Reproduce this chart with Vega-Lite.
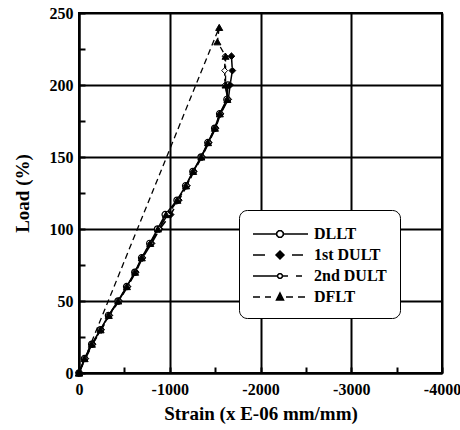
{
  "$schema": "https://vega.github.io/schema/vega-lite/v6.json",
  "width": 363,
  "height": 360,
  "autosize": "none",
  "padding": {"left": 79, "top": 13, "right": 18, "bottom": 57},
  "background": "white",
  "config": {
    "view": {"stroke": "black", "strokeWidth": 2},
    "axis": {
      "labelFont": "Liberation Serif", "labelFontWeight": "bold", "labelFontSize": 16, "labelColor": "#000000",
      "titleFont": "Liberation Serif", "titleFontWeight": "bold", "titleFontSize": 19, "titleColor": "#000000",
      "domainColor": "black", "domainWidth": 2, "tickColor": "black", "tickWidth": 2, "tickSize": -6,
      "grid": true, "gridColor": "black", "gridWidth": 2
    }
  },
  "data": {"values": [
    {"s":"DLLT","i":0,"load":0,"strain":0},{"s":"DLLT","i":1,"load":10,"strain":-60},{"s":"DLLT","i":2,"load":20,"strain":-140},{"s":"DLLT","i":3,"load":30,"strain":-235},{"s":"DLLT","i":4,"load":40,"strain":-325},{"s":"DLLT","i":5,"load":50,"strain":-430},{"s":"DLLT","i":6,"load":60,"strain":-525},{"s":"DLLT","i":7,"load":70,"strain":-615},{"s":"DLLT","i":8,"load":80,"strain":-690},{"s":"DLLT","i":9,"load":90,"strain":-780},{"s":"DLLT","i":10,"load":100,"strain":-865},{"s":"DLLT","i":11,"load":110,"strain":-950},{"s":"DLLT","i":12,"load":120,"strain":-1080},{"s":"DLLT","i":13,"load":130,"strain":-1175},{"s":"DLLT","i":14,"load":140,"strain":-1255},{"s":"DLLT","i":15,"load":150,"strain":-1345},{"s":"DLLT","i":16,"load":160,"strain":-1420},{"s":"DLLT","i":17,"load":170,"strain":-1495},{"s":"DLLT","i":18,"load":180,"strain":-1550},{"s":"DLLT","i":19,"load":190,"strain":-1630},{"s":"DLLT","i":20,"load":200,"strain":-1640},
    {"s":"1st DULT","i":0,"load":0,"strain":0},{"s":"1st DULT","i":1,"load":10,"strain":-70},{"s":"1st DULT","i":2,"load":20,"strain":-150},{"s":"1st DULT","i":3,"load":30,"strain":-245},{"s":"1st DULT","i":4,"load":40,"strain":-335},{"s":"1st DULT","i":5,"load":50,"strain":-440},{"s":"1st DULT","i":6,"load":60,"strain":-535},{"s":"1st DULT","i":7,"load":70,"strain":-625},{"s":"1st DULT","i":8,"load":80,"strain":-700},{"s":"1st DULT","i":9,"load":90,"strain":-800},{"s":"1st DULT","i":10,"load":100,"strain":-890},{"s":"1st DULT","i":11,"load":110,"strain":-1010},{"s":"1st DULT","i":12,"load":120,"strain":-1100},{"s":"1st DULT","i":13,"load":130,"strain":-1190},{"s":"1st DULT","i":14,"load":140,"strain":-1265},{"s":"1st DULT","i":15,"load":150,"strain":-1355},{"s":"1st DULT","i":16,"load":160,"strain":-1430},{"s":"1st DULT","i":17,"load":170,"strain":-1505},{"s":"1st DULT","i":18,"load":180,"strain":-1560},{"s":"1st DULT","i":19,"load":190,"strain":-1645},{"s":"1st DULT","i":20,"load":200,"strain":-1665},{"s":"1st DULT","i":21,"load":210,"strain":-1690},{"s":"1st DULT","i":22,"load":220,"strain":-1680},
    {"s":"2nd DULT","i":0,"load":0,"strain":0},{"s":"2nd DULT","i":1,"load":10,"strain":-65},{"s":"2nd DULT","i":2,"load":20,"strain":-145},{"s":"2nd DULT","i":3,"load":30,"strain":-240},{"s":"2nd DULT","i":4,"load":40,"strain":-330},{"s":"2nd DULT","i":5,"load":50,"strain":-435},{"s":"2nd DULT","i":6,"load":60,"strain":-530},{"s":"2nd DULT","i":7,"load":70,"strain":-620},{"s":"2nd DULT","i":8,"load":80,"strain":-695},{"s":"2nd DULT","i":9,"load":90,"strain":-790},{"s":"2nd DULT","i":10,"load":100,"strain":-880},{"s":"2nd DULT","i":11,"load":110,"strain":-975},{"s":"2nd DULT","i":12,"load":120,"strain":-1090},{"s":"2nd DULT","i":13,"load":130,"strain":-1185},{"s":"2nd DULT","i":14,"load":140,"strain":-1260},{"s":"2nd DULT","i":15,"load":150,"strain":-1350},{"s":"2nd DULT","i":16,"load":160,"strain":-1425},{"s":"2nd DULT","i":17,"load":170,"strain":-1500},{"s":"2nd DULT","i":18,"load":180,"strain":-1555},{"s":"2nd DULT","i":19,"load":190,"strain":-1640},{"s":"2nd DULT","i":20,"load":200,"strain":-1610},{"s":"2nd DULT","i":21,"load":210,"strain":-1605},{"s":"2nd DULT","i":22,"load":220,"strain":-1610},
    {"s":"DFLT","i":0,"load":0,"strain":0},{"s":"DFLT","i":1,"load":10,"strain":-62},{"s":"DFLT","i":2,"load":20,"strain":-142},{"s":"DFLT","i":3,"load":30,"strain":-238},{"s":"DFLT","i":4,"load":40,"strain":-328},{"s":"DFLT","i":5,"load":50,"strain":-432},{"s":"DFLT","i":6,"load":60,"strain":-528},{"s":"DFLT","i":7,"load":70,"strain":-618},{"s":"DFLT","i":8,"load":80,"strain":-692},{"s":"DFLT","i":9,"load":90,"strain":-785},{"s":"DFLT","i":10,"load":100,"strain":-870},{"s":"DFLT","i":11,"load":110,"strain":-960},{"s":"DFLT","i":12,"load":120,"strain":-1085},{"s":"DFLT","i":13,"load":130,"strain":-1180},{"s":"DFLT","i":14,"load":140,"strain":-1258},{"s":"DFLT","i":15,"load":150,"strain":-1348},{"s":"DFLT","i":16,"load":160,"strain":-1422},{"s":"DFLT","i":17,"load":170,"strain":-1498},{"s":"DFLT","i":18,"load":180,"strain":-1552},{"s":"DFLT","i":19,"load":190,"strain":-1635},{"s":"DFLT","i":20,"load":200,"strain":-1615},{"s":"DFLT","i":21,"load":220,"strain":-1615},{"s":"DFLT","i":22,"load":230,"strain":-1525},{"s":"DFLT","i":23,"load":240,"strain":-1545},{"s":"DFLT","i":24,"load":0,"strain":0}
  ]},
  "encoding": {
    "x": {"field": "strain", "type": "quantitative",
      "scale": {"domain": [-4000, 0], "reverse": true, "nice": false, "zero": false},
      "axis": {"values": [0,-500,-1000,-1500,-2000,-2500,-3000,-3500,-4000],
        "labelExpr": "datum.value % 1000 === 0 ? (datum.value === 0 ? '0' : '-' + format(-datum.value, 'd')) : ''",
        "gridOpacity": {"condition": {"test": "datum.value % 1000 === 0", "value": 1}, "value": 0},
        "labelPadding": 14, "title": "Strain (x E-06 mm/mm)", "titlePadding": 7, "labelFlush": false}},
    "y": {"field": "load", "type": "quantitative",
      "scale": {"domain": [0, 250], "nice": false},
      "axis": {"values": [0,25,50,75,100,125,150,175,200,225,250],
        "labelExpr": "datum.value % 50 === 0 ? format(datum.value, 'd') : ''",
        "gridOpacity": {"condition": {"test": "datum.value % 50 === 0", "value": 1}, "value": 0},
        "labelPadding": 12, "title": "Load (%)", "titlePadding": 17, "labelFlush": false}}
  },
  "layer": [
    {
      "transform": [{"filter": "datum.s === 'DLLT'"}],
      "mark": {"type": "line", "color": "black", "strokeWidth": 1.5},
      "encoding": {"order": {"field": "i", "type": "quantitative"}}
    },
    {
      "transform": [{"filter": "datum.s === '1st DULT'"}],
      "mark": {"type": "line", "color": "black", "strokeWidth": 1.5, "strokeDash": [10, 5]},
      "encoding": {"order": {"field": "i", "type": "quantitative"}}
    },
    {
      "transform": [{"filter": "datum.s === '2nd DULT'"}],
      "mark": {"type": "line", "color": "black", "strokeWidth": 1.5, "strokeDash": [12, 3, 3, 3]},
      "encoding": {"order": {"field": "i", "type": "quantitative"}}
    },
    {
      "transform": [{"filter": "datum.s === 'DFLT'"}],
      "mark": {"type": "line", "color": "black", "strokeWidth": 1.3, "strokeDash": [6, 4]},
      "encoding": {"order": {"field": "i", "type": "quantitative"}}
    },
    {
      "transform": [{"filter": "datum.s === 'DLLT'"}],
      "mark": {"type": "point", "shape": "circle", "filled": true, "fill": "white", "stroke": "black", "strokeWidth": 1.2, "size": 40, "opacity": 1}
    },
    {
      "transform": [{"filter": "datum.s === '1st DULT'"}],
      "mark": {"type": "point", "shape": "diamond", "filled": true, "fill": "black", "stroke": "black", "strokeWidth": 1, "size": 45, "opacity": 1}
    },
    {
      "transform": [{"filter": "datum.s === '2nd DULT'"}],
      "mark": {"type": "point", "shape": "diamond", "filled": true, "fill": "white", "stroke": "black", "strokeWidth": 1, "size": 35, "opacity": 1}
    },
    {
      "transform": [{"filter": "datum.s === 'DFLT'"}],
      "mark": {"type": "point", "shape": "triangle-up", "filled": true, "fill": "black", "stroke": "black", "strokeWidth": 1, "size": 50, "opacity": 1}
    },
    {
      "mark": {"type": "point", "filled": false, "color": "black", "strokeWidth": 1.5, "size": 400, "opacity": 0},
      "encoding": {
        "shape": {"field": "s", "type": "nominal",
          "scale": {"domain": ["DLLT", "1st DULT", "2nd DULT", "DFLT"], "range": [
            "M-1,0H1.35M2.05,0H4.5M2.023,0.134L1.834,0.323L1.566,0.323L1.377,0.134L1.377,-0.134L1.566,-0.323L1.834,-0.323L2.023,-0.134Z",
            "M-1,0H0.2M2.9,0H4M1.7,-0.4L2.1,0L1.7,0.4L1.3,0ZM1.7,-0.28L1.98,0L1.7,0.28L1.42,0ZM1.7,-0.16L1.86,0L1.7,0.16L1.54,0ZM1.62,0H1.78",
            "M-1,0H1.45M1.95,0H2.5M3.3,0H3.9M1.931,0.096L1.796,0.231L1.604,0.231L1.469,0.096L1.469,-0.096L1.604,-0.231L1.796,-0.231L1.931,-0.096Z",
            "M-1,0H-0.3M0.2,0H0.8M2.3,0H3M3.5,0H4.2M1.7,-0.4L2.05,0.3L1.35,0.3ZM1.7,-0.241L1.931,0.221L1.469,0.221ZM1.7,-0.087L1.816,0.144L1.584,0.144Z"]},
          "legend": {"title": null, "orient": "none", "legendX": 160, "legendY": 197, "padding": 13,
            "strokeColor": "black", "fillColor": "white", "cornerRadius": 8,
            "labelFont": "Liberation Serif", "labelFontWeight": "bold", "labelFontSize": 16, "labelColor": "black",
            "labelOffset": 40, "rowPadding": 2, "symbolOpacity": 1, "symbolStrokeWidth": 1.5, "symbolSize": 400,
            "symbolStrokeColor": "black", "symbolFillColor": "white"}}
      }
    }
  ]
}
